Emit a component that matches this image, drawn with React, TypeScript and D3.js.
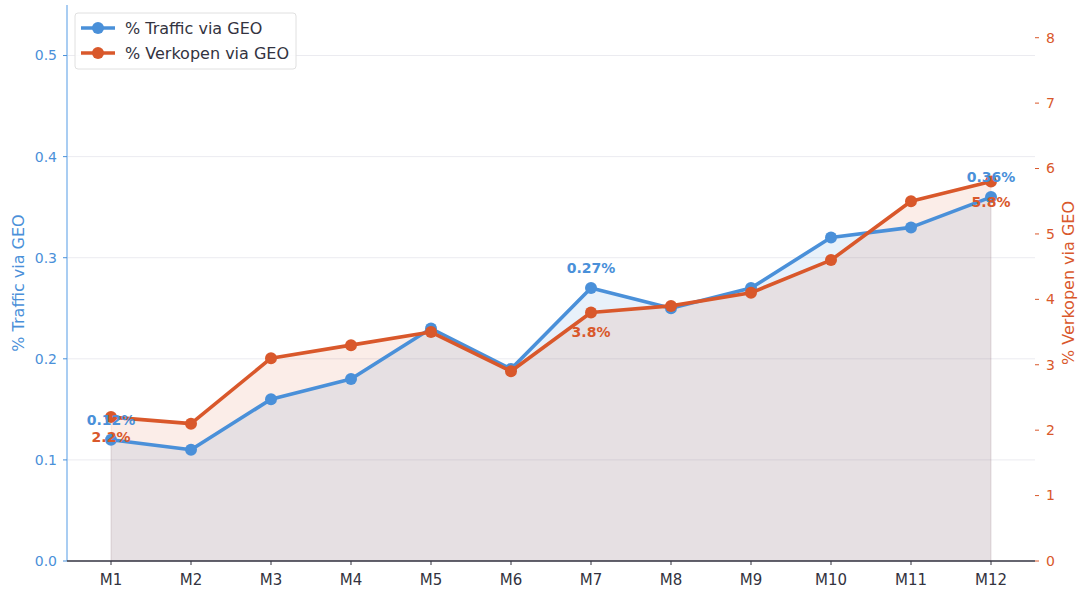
import React from "react";
import * as d3 from "d3";

const months = ["M1", "M2", "M3", "M4", "M5", "M6", "M7", "M8", "M9", "M10", "M11", "M12"];
const traffic = [0.12, 0.11, 0.16, 0.18, 0.23, 0.19, 0.27, 0.25, 0.27, 0.32, 0.33, 0.36];
const verkopen = [2.2, 2.1, 3.1, 3.3, 3.5, 2.9, 3.8, 3.9, 4.1, 4.6, 5.5, 5.8];
const leftTicks = [0, 0.1, 0.2, 0.3, 0.4, 0.5];
const rightTicks = [0, 1, 2, 3, 4, 5, 6, 7, 8];
const labelled = [0, 6, 11];

const BLUE = "#4a90d9";
const RED = "#d9582b";
const DARK = "#333340";
const FONT = "DejaVu Sans, sans-serif";

export default function App() {
  const width = 1082;
  const height = 589;
  const margin = { top: 5, right: 47, bottom: 28, left: 67 };
  const x0 = margin.left;
  const x1 = width - margin.right;
  const yBottom = height - margin.bottom;

  const x = d3.scalePoint<string>().domain(months).range([x0, x1]).padding(0.55);
  const yL = d3.scaleLinear().domain([0, 0.55]).range([yBottom, margin.top]);
  const yR = d3.scaleLinear().domain([0, 8.5]).range([yBottom, margin.top]);

  const trafficLine = d3.line<number>().x((_, i) => x(months[i])!).y((d) => yL(d));
  const verkopenLine = d3.line<number>().x((_, i) => x(months[i])!).y((d) => yR(d));
  const trafficArea = d3.area<number>().x((_, i) => x(months[i])!).y0(yBottom).y1((d) => yL(d));
  const verkopenArea = d3.area<number>().x((_, i) => x(months[i])!).y0(yBottom).y1((d) => yR(d));

  return (
    <div style={{ position: "fixed", left: 0, top: 0 }}>
      <svg width={width} height={height} style={{ display: "block", fontFamily: FONT }}>
        <rect width={width} height={height} fill="white" />

        {/* grid */}
        {leftTicks.filter((t) => t > 0).map((t) => (
          <line key={t} x1={x0} x2={x1} y1={yL(t)} y2={yL(t)} stroke="#ebebf0" strokeWidth={1} />
        ))}

        {/* areas */}
        <path d={trafficArea(traffic)!} fill={BLUE} fillOpacity={0.13} stroke={BLUE} strokeOpacity={0.13} />
        <path d={verkopenArea(verkopen)!} fill={RED} fillOpacity={0.11} stroke={RED} strokeOpacity={0.11} />

        {/* lines */}
        <path d={trafficLine(traffic)!} fill="none" stroke={BLUE} strokeWidth={3.6} strokeLinejoin="round" />
        {traffic.map((d, i) => (
          <circle key={"t" + i} cx={x(months[i])} cy={yL(d)} r={6} fill={BLUE} />
        ))}
        <path d={verkopenLine(verkopen)!} fill="none" stroke={RED} strokeWidth={3.6} strokeLinejoin="round" />
        {verkopen.map((d, i) => (
          <circle key={"v" + i} cx={x(months[i])} cy={yR(d)} r={6} fill={RED} />
        ))}

        {/* labels */}
        {labelled.map((i) => (
          <g key={"l" + i} fontSize={14} fontWeight="bold" textAnchor="middle">
            <text x={x(months[i])} y={yL(traffic[i]) - 20} dy="0.35em" fill={BLUE}>
              {traffic[i].toFixed(2)}%
            </text>
            <text x={x(months[i])} y={yR(verkopen[i]) + 20} dy="0.35em" fill={RED}>
              {verkopen[i].toFixed(1)}%
            </text>
          </g>
        ))}

        {/* left axis */}
        <line x1={x0} x2={x0} y1={margin.top} y2={yBottom} stroke="#8dbcee" strokeWidth={1.5} />
        {leftTicks.map((t) => (
          <g key={"lt" + t}>
            <line x1={x0 - 4} x2={x0} y1={yL(t)} y2={yL(t)} stroke={BLUE} />
            <text x={x0 - 10} y={yL(t)} dy="0.35em" textAnchor="end" fontSize={14} fill={BLUE}>
              {t.toFixed(1)}
            </text>
          </g>
        ))}
        <text transform={`translate(18,${(margin.top + yBottom) / 2}) rotate(-90)`} textAnchor="middle" dy="0.35em" fontSize={16} fill={BLUE}>
          % Traffic via GEO
        </text>

        {/* right axis */}
        {rightTicks.map((t) => (
          <g key={"rt" + t}>
            <line x1={x1} x2={x1 + 4} y1={yR(t)} y2={yR(t)} stroke={RED} />
            <text x={x1 + 11} y={yR(t)} dy="0.35em" textAnchor="start" fontSize={14} fill={RED}>
              {t}
            </text>
          </g>
        ))}
        <text transform={`translate(1068,${(margin.top + yBottom) / 2}) rotate(-90)`} textAnchor="middle" dy="0.35em" fontSize={16} fill={RED}>
          % Verkopen via GEO
        </text>

        {/* bottom axis */}
        <line x1={x0} x2={x1} y1={yBottom} y2={yBottom} stroke={DARK} strokeWidth={1.5} />
        {months.map((m) => (
          <g key={m}>
            <line x1={x(m)} x2={x(m)} y1={yBottom} y2={yBottom + 4} stroke={DARK} />
            <text x={x(m)} y={yBottom + 19} dy="0.35em" textAnchor="middle" fontSize={15} fill={DARK}>
              {m}
            </text>
          </g>
        ))}

        {/* legend */}
        <g transform="translate(75,13)">
          <rect width={221} height={56} rx={3} fill="white" fillOpacity={0.85} stroke="#e0e0e0" />
          {[
            { label: "% Traffic via GEO", color: BLUE },
            { label: "% Verkopen via GEO", color: RED },
          ].map((s, i) => (
            <g key={s.label} transform={`translate(0,${15 + i * 25})`}>
              <line x1={6} x2={40} y1={0} y2={0} stroke={s.color} strokeWidth={3.6} />
              <circle cx={23} cy={0} r={6} fill={s.color} />
              <text x={50} y={0} dy="0.35em" fontSize={16} fill={DARK}>
                {s.label}
              </text>
            </g>
          ))}
        </g>
      </svg>
    </div>
  );
}
